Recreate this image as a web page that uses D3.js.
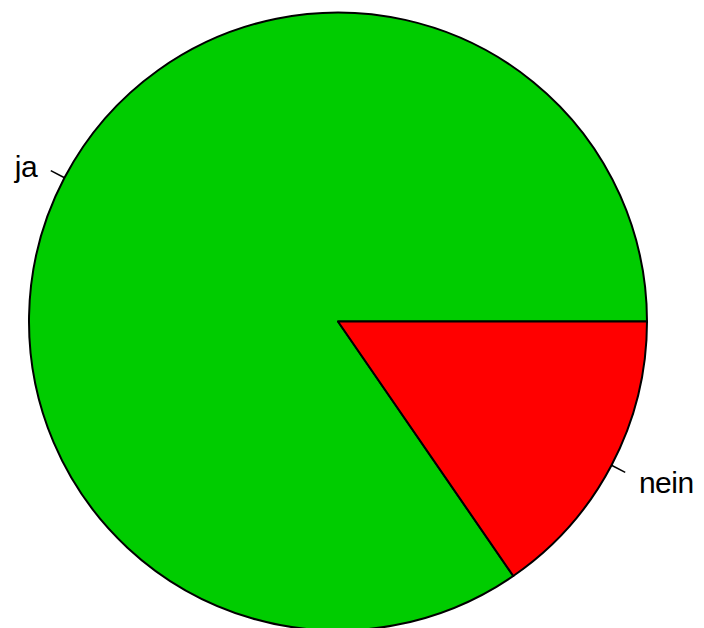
<!DOCTYPE html>
<html><head><meta charset="utf-8">
<script src="https://cdn.jsdelivr.net/npm/d3@7"></script>
<style>html,body{margin:0;padding:0;background:#fff;}</style>
</head><body>
<svg id="c" width="704" height="628"></svg>
<script>
const labels = ["ja", "nein"];
const values = [0.846, 0.154];
const colors = ["#00CC00", "#FF0000"];

const svg = d3.select("#c");
const cx = 338, cy = 321.5, r = 309;
const g = svg.append("g").attr("transform", `translate(${cx},${cy})`);

const pie = d3.pie().sort(null).value(d => d)
  .startAngle(Math.PI / 2).endAngle(Math.PI / 2 - 2 * Math.PI);
const arcs = pie(values);
const arc = d3.arc().innerRadius(0).outerRadius(r);

g.selectAll("path.slice").data(arcs).enter().append("path")
  .attr("class", "slice")
  .attr("d", arc)
  .attr("fill", (d, i) => colors[i])
  .attr("stroke", "#000").attr("stroke-width", 2)
  .attr("stroke-linejoin", "round");

arcs.forEach((d, i) => {
  const a = (d.startAngle + d.endAngle) / 2;
  const ux = Math.sin(a), uy = -Math.cos(a);
  g.append("line")
    .attr("x1", ux * r).attr("y1", uy * r)
    .attr("x2", ux * r * 1.05).attr("y2", uy * r * 1.05)
    .attr("stroke", "#000").attr("stroke-width", 1.5);
  g.append("text")
    .attr("x", ux * r * 1.1).attr("y", uy * r * 1.1)
    .attr("dy", "0.45em")
    .attr("text-anchor", ux < 0 ? "end" : "start")
    .attr("font-family", "'Liberation Sans', Arial, sans-serif")
    .attr("font-size", 30)
    .attr("letter-spacing", -0.5)
    .attr("fill", "#000")
    .text(labels[i]);
});
</script>
</body></html>
